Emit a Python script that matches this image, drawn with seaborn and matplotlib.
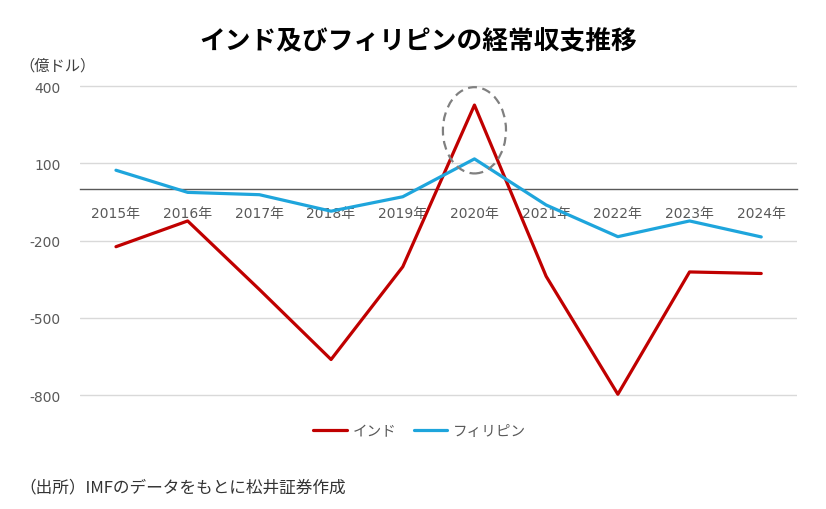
import matplotlib
matplotlib.use("Agg")
import matplotlib.pyplot as plt
import seaborn as sns
import pandas as pd
from matplotlib.patches import Ellipse

years = ["2015年", "2016年", "2017年", "2018年", "2019年",
         "2020年", "2021年", "2022年", "2023年", "2024年"]
india = [-224, -124, -390, -662, -302, 326, -339, -797, -322, -328]
philippines = [73, -13, -22, -86, -30, 117, -62, -185, -124, -186]
series_names = ["インド", "フィリピン"]
yticks = [400, 100, -200, -500, -800]

sns.set_theme(style="white")
plt.rcParams['font.family'] = ['DejaVu Sans', 'Noto Sans CJK JP']

df = pd.DataFrame({
    "idx": list(range(len(years))) * 2,
    "value": india + philippines,
    "series": [series_names[0]] * len(years) + [series_names[1]] * len(years),
})

fig = plt.figure(figsize=(8.26, 5.10), dpi=100)
ax = fig.add_axes([0.097, 0.2184, 0.868, 0.6135])

palette = {series_names[0]: "#c00000", series_names[1]: "#1ea5dc"}
sns.lineplot(data=df, x="idx", y="value", hue="series", palette=palette,
             linewidth=2.3, ax=ax, legend=True, zorder=3)

ax.set_xlim(-0.5, len(years) - 0.5)
ax.set_ylim(-810, 405)
ax.set_yticks(yticks)
ax.set_yticklabels([str(v) for v in yticks])
ax.set_xticks(range(len(years)))
ax.set_xticklabels(years)
ax.set_xlabel("")
ax.set_ylabel("")

ax.grid(axis="y", color="#d9d9d9", linewidth=1)
ax.grid(axis="x", visible=False)
for s in ["top", "right", "left"]:
    ax.spines[s].set_visible(False)
ax.spines["bottom"].set_position(("data", 0))
ax.spines["bottom"].set_color("#595959")
ax.spines["bottom"].set_linewidth(1.0)
ax.spines["bottom"].set_zorder(2)
ax.tick_params(axis="x", length=0, pad=12, labelsize=10, labelcolor="#595959")
ax.tick_params(axis="y", length=0, pad=14, labelsize=10, labelcolor="#595959")

ell = Ellipse((5, 228), width=0.88, height=335, fill=False,
              edgecolor="#808080", linestyle=(0, (4, 2.5)), linewidth=1.6, zorder=4)
ax.add_patch(ell)

handles, labels = ax.get_legend_handles_labels()
ax.legend(handles, labels, loc="center", bbox_to_anchor=(0.508, 0.153),
          bbox_transform=fig.transFigure, ncol=2, frameon=False,
          fontsize=10.5, handlelength=2.3, handletextpad=0.4, columnspacing=1.2,
          labelcolor="#595959")

fig.text(0.5067, 0.918, "インド及びフィリピンの経常収支推移", ha="center", va="center",
         fontsize=18.5, fontweight="bold", color="#000000",
         family=['Noto Sans CJK JP', 'DejaVu Sans'])
fig.text(0.024, 0.871, "（億ドル）", ha="left", va="center", fontsize=11,
         color="#404040", family=['Noto Sans CJK JP', 'DejaVu Sans'])
fig.text(0.024, 0.043, "（出所）IMFのデータをもとに松井証券作成", ha="left", va="center",
         fontsize=12, color="#333333", family=['Noto Sans CJK JP', 'DejaVu Sans'])

fig.savefig("out.png", dpi=100)
